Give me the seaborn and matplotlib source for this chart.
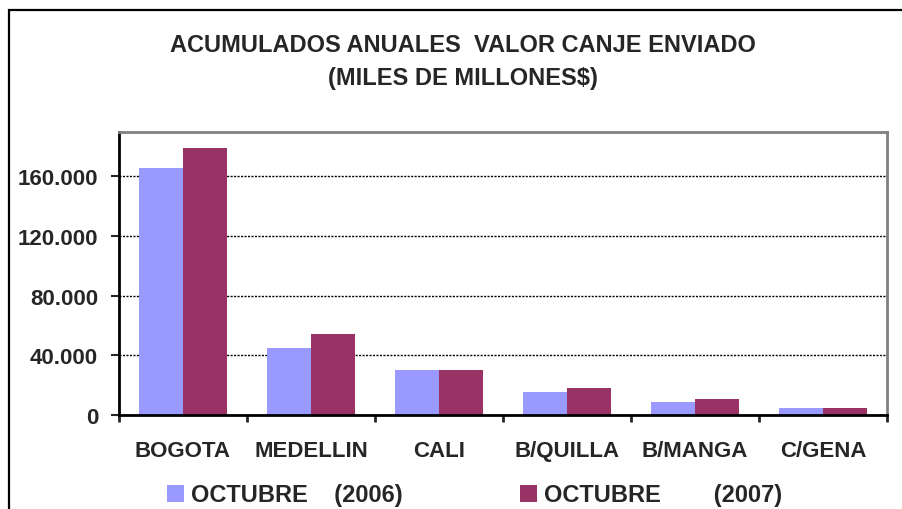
import numpy as np
import pandas as pd
import matplotlib
matplotlib.use('Agg')
from matplotlib import pyplot as plt
from matplotlib.patches import Rectangle
from matplotlib.ticker import FuncFormatter
import seaborn as sb

# values (miles de millones $)
ciudades = ['BOGOTA', 'MEDELLIN', 'CALI', 'B/QUILLA', 'B/MANGA', 'C/GENA']
valor_2006 = [165300, 44800, 30100, 15400, 9000, 5000]
valor_2007 = [178700, 54200, 30100, 18100, 10400, 5000]
serie_2006 = 'OCTUBRE    (2006)'
serie_2007 = 'OCTUBRE        (2007)'
y_ticks = [0, 40000, 80000, 120000, 160000]

df = pd.DataFrame({
    'ciudad': ciudades * 2,
    'serie': [serie_2006] * len(ciudades) + [serie_2007] * len(ciudades),
    'valor': valor_2006 + valor_2007,
})

sb.set_style('white')
plt.rcParams['font.family'] = ['Liberation Sans', 'DejaVu Sans']
plt.rcParams['font.weight'] = 'bold'

fig = plt.figure(figsize=(9.02, 5.10), dpi=100)
ax = fig.add_axes([119/902, 1 - 416/510, (887 - 119)/902, (416 - 133)/510])

sb.barplot(data=df, x='ciudad', y='valor', hue='serie', order=ciudades,
           palette=['#9999FF', '#993366'], width=0.69, gap=0,
           saturation=1, linewidth=0, ax=ax, legend=True)

ax.set_xlim(-0.5, len(ciudades) - 0.5)
ax.set_ylim(0, 189500)
ax.set_yticks(y_ticks)
ax.yaxis.set_major_formatter(FuncFormatter(lambda v, p: f'{int(v):,}'.replace(',', '.')))
ax.set_xlabel('')
ax.set_ylabel('')

ax.grid(axis='y', color='black', linestyle=(0, (1.5, 1)), linewidth=1.0)
ax.set_axisbelow(True)

for s in ['left', 'bottom']:
    ax.spines[s].set_color('black')
    ax.spines[s].set_linewidth(2)
for s in ['top', 'right']:
    ax.spines[s].set_color('#808080')
    ax.spines[s].set_linewidth(2)

ax.tick_params(axis='y', direction='out', length=6, width=1.5, pad=9,
               labelsize=16, left=True)
ax.tick_params(axis='x', which='major', length=0, pad=18, labelsize=16)
ax.set_xticks(np.arange(-0.5, len(ciudades)), minor=True)
ax.tick_params(axis='x', which='minor', direction='out', length=5, width=2,
               bottom=True)

handles, labels = ax.get_legend_handles_labels()
ax.legend(handles, labels, loc='center left', bbox_to_anchor=(167/902, 1 - 496/510),
          bbox_transform=fig.transFigure, ncol=2, frameon=False, fontsize=17,
          handlelength=0.7, handleheight=0.7, handletextpad=0.3,
          columnspacing=5.0, borderaxespad=0, borderpad=0)

fig.text(463/902, 1 - 46/510, 'ACUMULADOS ANUALES  VALOR CANJE ENVIADO',
         ha='center', va='center', fontsize=17, fontweight='bold')
fig.text(463/902, 1 - 78/510, '(MILES DE MILLONES$)',
         ha='center', va='center', fontsize=17, fontweight='bold')

# outer frame of the chart
fig.patches.append(Rectangle((9/902, -0.2), 1.2, 1.2 - 11/510,
                             transform=fig.transFigure, fill=False,
                             edgecolor='black', linewidth=1.6))

fig.savefig('out.png', dpi=100)
